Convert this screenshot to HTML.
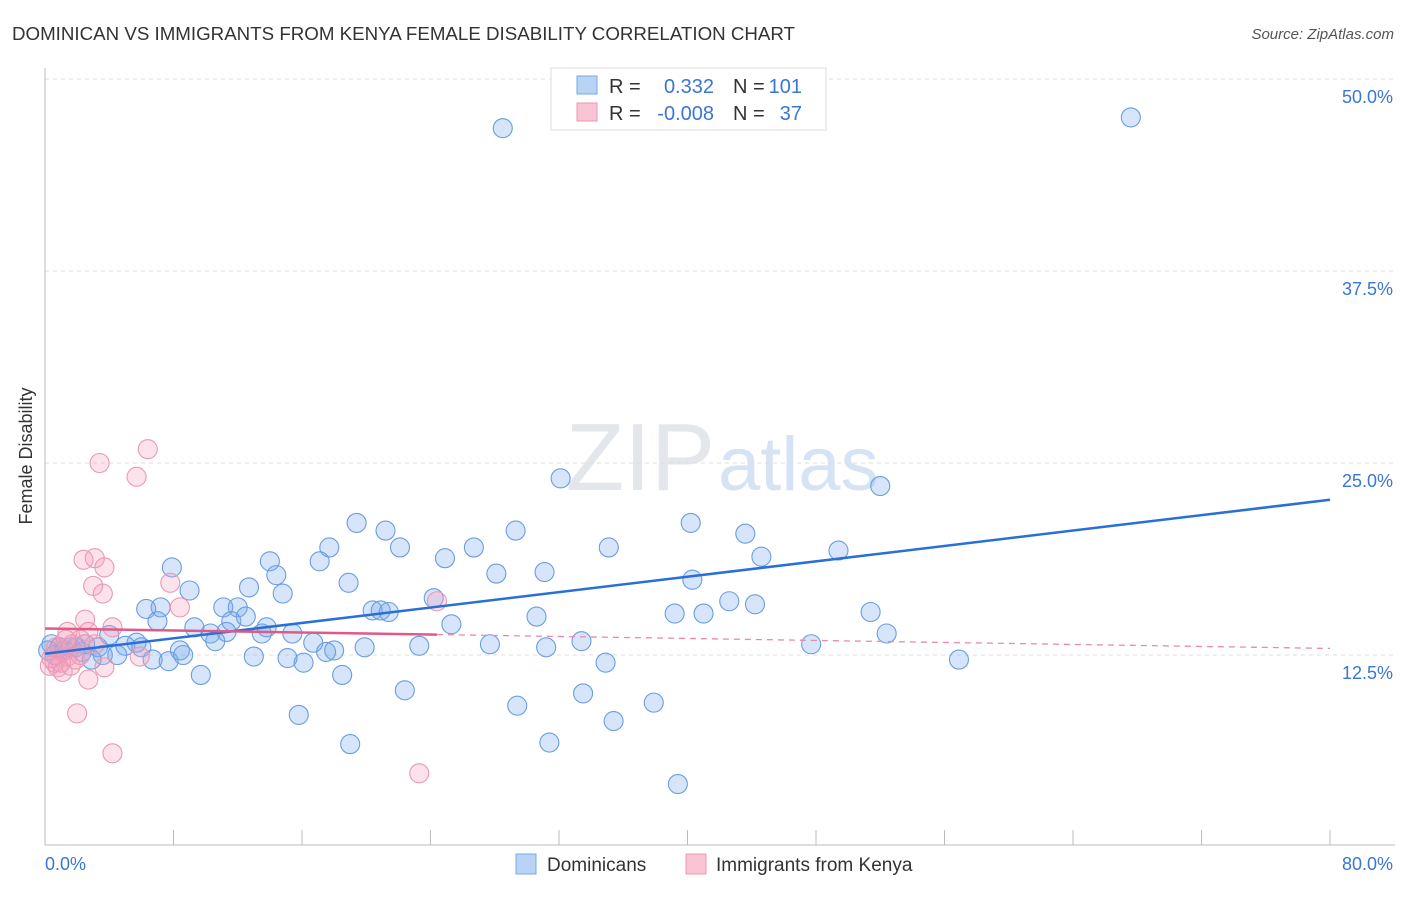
<!DOCTYPE html>
<html><head><meta charset="utf-8"><style>
body{margin:0;background:#fff;font-family:"Liberation Sans",sans-serif}
svg text{font-family:"Liberation Sans",sans-serif}
</style></head><body>
<svg id="c" width="1406" height="892">
<text x="12" y="40" font-size="18.5" fill="#333" textLength="783" lengthAdjust="spacingAndGlyphs">DOMINICAN VS IMMIGRANTS FROM KENYA FEMALE DISABILITY CORRELATION CHART</text>
<text x="1394" y="39" font-size="15" fill="#555" font-style="italic" text-anchor="end">Source: ZipAtlas.com</text>
<text x="32" y="456" font-size="18" fill="#333" transform="rotate(-90 32 456)" text-anchor="middle">Female Disability</text>
<text x="715" y="490" font-size="96" fill="#e3e6ea" text-anchor="end" font-family="Liberation Serif">ZIP</text>
<text x="718" y="490" font-size="76" fill="#d5e3f4">atlas</text>
<g id="grid"></g><g id="axes"></g><g id="pts"></g><g id="lines"></g>
<g>
<rect x="551" y="68" width="275" height="62" fill="#fff" stroke="#ddd"/>
<rect x="577" y="76" width="20" height="18" fill="#b8d3f5" stroke="#7aa8e6"/>
<text x="609" y="93" font-size="20" fill="#333">R =</text><text x="714" y="93" font-size="20" fill="#3a76d4" text-anchor="end">0.332</text>
<text x="733" y="93" font-size="20" fill="#333">N =</text><text x="802" y="93" font-size="20" fill="#3a76d4" text-anchor="end">101</text>
<rect x="577" y="103" width="20" height="18" fill="#f9c5d5" stroke="#ea97b3"/>
<text x="609" y="120" font-size="20" fill="#333">R =</text><text x="714" y="120" font-size="20" fill="#3a76d4" text-anchor="end">-0.008</text>
<text x="733" y="120" font-size="20" fill="#333">N =</text><text x="802" y="120" font-size="20" fill="#3a76d4" text-anchor="end">37</text>
</g>
<g>
<rect x="516" y="854" width="20" height="20" fill="#b8d3f5" stroke="#7aa8e6"/>
<text x="547" y="871" font-size="19" fill="#333">Dominicans</text>
<rect x="686" y="854" width="20" height="20" fill="#f9c5d5" stroke="#ea97b3"/>
<text x="716" y="871" font-size="19" fill="#333">Immigrants from Kenya</text>
</g>
</svg>
<script>
const blueX=[28.5,67.6,32.1,52.0,19.4,21.2,29.3,40.2,43.6,17.7,22.1,26.7,35.1,49.4,44.6,14.0,17.1,24.9,7.9,14.4,28.1,31.1,40.3,18.9,9.0,12.7,14.8,24.2,42.6,44.2,7.2,6.3,11.1,12.0,20.4,20.9,21.4,39.2,41.0,51.4,30.6,7.0,11.6,12.5,13.8,9.3,10.3,11.3,13.5,15.4,25.3,52.4,4.0,10.6,16.7,5.7,33.4,47.7,27.7,23.3,19.9,18.0,31.2,17.5,5.0,6.0,3.3,0.4,0.9,1.6,2.3,3.6,4.5,6.7,7.7,8.4,8.6,13.0,15.1,16.1,2.9,34.9,56.9,9.7,18.5,22.4,33.5,29.4,37.9,15.8,35.4,19.0,31.4,39.4,1.9,0.6,0.2,1.2,2.5];
const blueY=[46.8,47.5,24.0,23.5,21.1,20.6,20.6,21.1,20.4,19.5,19.5,19.5,19.5,19.3,18.9,18.6,18.6,18.8,18.2,17.7,17.8,17.9,17.4,17.2,16.7,16.9,16.5,16.2,16.0,15.8,15.6,15.5,15.6,15.6,15.4,15.4,15.3,15.2,15.2,15.3,15.0,14.7,14.7,15.0,14.3,14.3,13.9,14.0,13.9,13.9,14.5,13.9,13.8,13.4,13.3,13.3,13.4,13.2,13.2,13.1,13.0,12.8,13.0,12.7,13.1,13.0,13.0,13.2,13.0,13.0,12.7,12.5,12.5,12.2,12.1,12.8,12.5,12.4,12.3,12.0,12.2,12.0,12.2,11.2,11.2,10.2,10.0,9.2,9.4,8.6,8.2,6.7,6.8,4.1,13.0,12.5,12.8,12.8,13.2];
const pinkX=[3.4,6.4,5.7,2.4,3.1,3.7,3.0,7.8,3.6,8.4,24.4,2.5,4.2,1.4,2.7,2.2,1.7,0.9,3.1,1.4,0.6,0.3,0.8,1.0,1.9,1.1,3.7,5.9,2.7,2.0,4.2,23.3,0.4,1.6,0.7,2.2,1.3];
const pinkY=[25.0,25.9,24.1,18.7,18.8,18.2,17.0,17.2,16.5,15.6,16.0,14.8,14.3,14.0,14.0,13.5,13.2,12.8,13.2,12.4,12.0,11.8,11.7,12.0,12.2,11.4,11.7,12.4,10.9,8.7,6.1,4.8,12.3,11.8,13.0,12.5,13.5];
const yTicks=[12.5,25.0,37.5,50.0];
const xTickVals=[0,8,16,24,32,40,48,56,64,72,80];
const NS='http://www.w3.org/2000/svg';
const X0=45,X1=1330,YB=847,PPY=192/12.5;
const sx=v=>X0+(v/80)*(X1-X0), sy=v=>YB-v*PPY;
function mk(t,a,p){const e=document.createElementNS(NS,t);for(const k in a)e.setAttribute(k,a[k]);p.appendChild(e);return e;}
const grid=document.getElementById('grid'),axes=document.getElementById('axes'),pts=document.getElementById('pts'),lines=document.getElementById('lines');
yTicks.forEach(v=>{
 const l=mk('line',{x1:45,x2:1395,y1:sy(v),y2:sy(v),stroke:'#ddd','stroke-dasharray':'4,4'},grid);
 
 
 const t=mk('text',{x:1393,y:sy(v)+24,'font-size':18,fill:'#3a76d4','text-anchor':'end'},grid);
 t.textContent=v.toFixed(1)+'%';
 
 
});
const ax=mk('line',{x1:45,x2:1395,y1:845,y2:845,stroke:'#bbb'},axes);


const ay=mk('line',{x1:45,x2:45,y1:68,y2:845,stroke:'#bbb'},axes);


xTickVals.forEach(v=>{
 const t=mk('line',{x1:sx(v),x2:sx(v),y1:830,y2:845,stroke:'#bbb'},axes);
 
 
});
const xl0=mk('text',{x:45,y:870,'font-size':18,fill:'#3a76d4'},axes);xl0.textContent='0.0%';


const xl1=mk('text',{x:1393,y:870,'font-size':18,fill:'#3a76d4','text-anchor':'end'},axes);xl1.textContent='80.0%';


function dots(xs,ys,fill,stroke,name){xs.forEach((x,i)=>{
 const c=mk('circle',{cx:sx(x),cy:sy(ys[i]),r:9.5,fill:fill,stroke:stroke,'stroke-width':1.1},pts);
 
 
});}
dots(blueX,blueY,'rgba(120,170,235,0.3)','#6a9de2','dominican-point');
dots(pinkX,pinkY,'rgba(245,160,190,0.3)','#eb97b4','kenya-point');
function reg(xs,ys){const n=xs.length;let mx=0,my=0;xs.forEach((x,i)=>{mx+=x;my+=ys[i];});mx/=n;my/=n;let sxy=0,sxx=0;xs.forEach((x,i)=>{sxy+=(x-mx)*(ys[i]-my);sxx+=(x-mx)**2;});const b=sxy/sxx;return [my-b*mx,b];}
const [ba,bb]=reg(blueX,blueY);
const bl=mk('line',{x1:sx(0),y1:sy(ba),x2:sx(80),y2:sy(ba+bb*80),stroke:'#2a6fd6','stroke-width':2.5},lines);


const [pa,pb]=reg(pinkX,pinkY);
const pmax=Math.max(...pinkX);
const pl=mk('line',{x1:sx(0),y1:sy(pa),x2:sx(pmax),y2:sy(pa+pb*pmax),stroke:'#e05a88','stroke-width':2.5},lines);


const pd=mk('line',{x1:sx(pmax),y1:sy(pa+pb*pmax),x2:sx(80),y2:sy(pa+pb*80),stroke:'#e88aab','stroke-width':1.3,'stroke-dasharray':'6,5'},lines);


</script>
</body></html>
